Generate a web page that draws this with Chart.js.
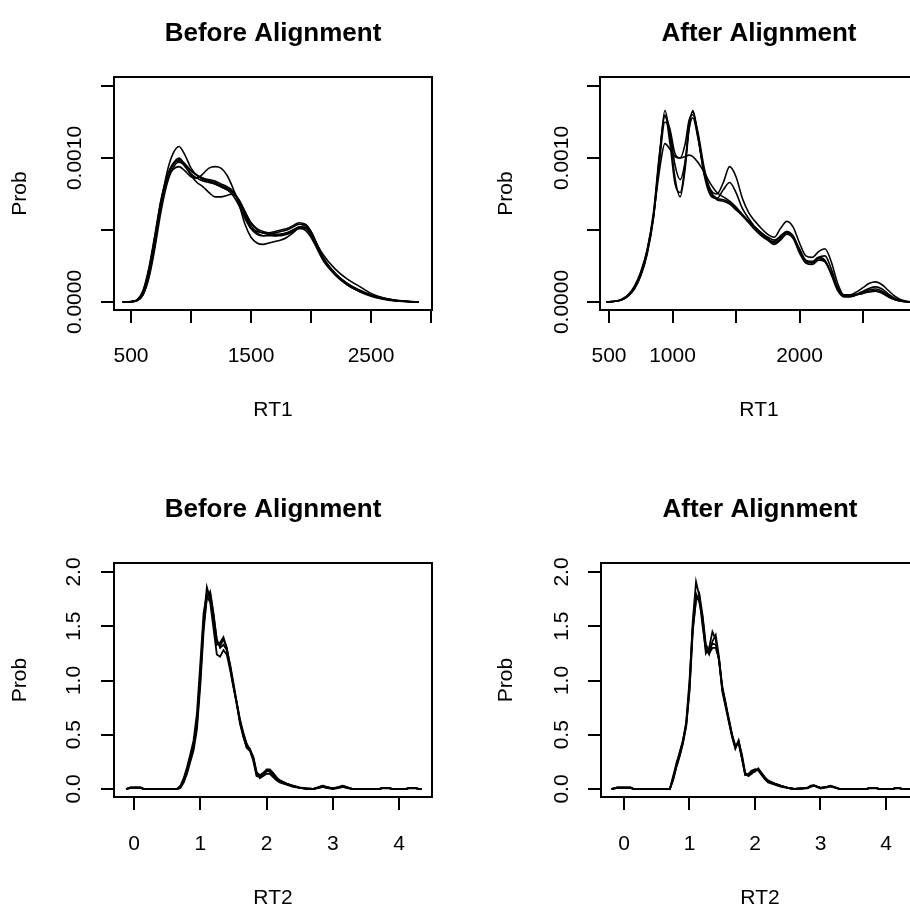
<!DOCTYPE html>
<html><head><meta charset="utf-8">
<script src="https://cdn.jsdelivr.net/npm/chart.js@4.4.1/dist/chart.umd.min.js"></script>
<style>
html,body{margin:0;padding:0;background:#fff;overflow:hidden;}
#wrap{position:relative;width:910px;height:912px;overflow:hidden;background:#fff;}
canvas{position:absolute;}
</style></head><body>
<div id="wrap">
<canvas id="c1" width="455" height="456" style="left:0px;top:0px"></canvas>
<canvas id="c2" width="480" height="456" style="left:455px;top:0px"></canvas>
<canvas id="c3" width="455" height="456" style="left:0px;top:456px"></canvas>
<canvas id="c4" width="480" height="456" style="left:455px;top:456px"></canvas>
</div>
<script>
// ---------- RT1, before alignment ----------
const RT1_BEFORE_X = [430, 500, 550, 600, 650, 700, 750, 800, 850, 900, 950, 1000, 1050, 1100, 1150, 1200, 1250, 1300, 1350, 1400, 1450, 1500, 1550, 1600, 1650, 1700, 1750, 1800, 1850, 1900, 1950, 2000, 2050, 2100, 2200, 2300, 2400, 2500, 2600, 2700, 2800, 2900];
const RT1_BEFORE_S1 = [0, 0.02e-4, 0.1e-4, 0.6e-4, 2.0e-4, 4.2e-4, 6.8e-4, 8.5e-4, 9.5e-4, 9.9e-4, 9.6e-4, 9.1e-4, 8.8e-4, 8.5e-4, 8.4e-4, 8.3e-4, 8.1e-4, 7.9e-4, 7.6e-4, 7.0e-4, 6.1e-4, 5.3e-4, 4.8e-4, 4.6e-4, 4.6e-4, 4.6e-4, 4.7e-4, 4.8e-4, 5.0e-4, 5.2e-4, 5.3e-4, 4.8e-4, 3.9e-4, 3.0e-4, 2.0e-4, 1.3e-4, 0.85e-4, 0.5e-4, 0.27e-4, 0.11e-4, 0.04e-4, 0];
const RT1_BEFORE_S2 = [0, 0.02e-4, 0.1e-4, 0.5e-4, 1.8e-4, 4.0e-4, 6.8e-4, 9.0e-4, 10.3e-4, 10.8e-4, 10.2e-4, 9.3e-4, 8.8e-4, 8.6e-4, 8.5e-4, 8.4e-4, 8.2e-4, 8.0e-4, 7.7e-4, 7.0e-4, 6.0e-4, 5.1e-4, 4.7e-4, 4.6e-4, 4.7e-4, 4.8e-4, 4.9e-4, 5.0e-4, 5.2e-4, 5.4e-4, 5.4e-4, 4.9e-4, 4.0e-4, 3.1e-4, 2.0e-4, 1.2e-4, 0.75e-4, 0.45e-4, 0.25e-4, 0.1e-4, 0.03e-4, 0];
const RT1_BEFORE_S3 = [0, 0.02e-4, 0.12e-4, 0.7e-4, 2.2e-4, 4.4e-4, 6.9e-4, 8.5e-4, 9.2e-4, 9.4e-4, 9.1e-4, 8.7e-4, 8.6e-4, 8.9e-4, 9.3e-4, 9.4e-4, 9.3e-4, 8.8e-4, 7.9e-4, 6.8e-4, 5.4e-4, 4.5e-4, 4.1e-4, 4.0e-4, 4.1e-4, 4.2e-4, 4.3e-4, 4.5e-4, 4.8e-4, 5.1e-4, 5.0e-4, 4.5e-4, 3.7e-4, 2.9e-4, 1.9e-4, 1.2e-4, 0.75e-4, 0.45e-4, 0.25e-4, 0.1e-4, 0.03e-4, 0];
const RT1_BEFORE_S4 = [0, 0.03e-4, 0.15e-4, 0.8e-4, 2.4e-4, 4.7e-4, 7.1e-4, 8.7e-4, 9.6e-4, 10.0e-4, 9.5e-4, 8.8e-4, 8.3e-4, 8.0e-4, 7.6e-4, 7.3e-4, 7.3e-4, 7.4e-4, 7.5e-4, 7.0e-4, 6.2e-4, 5.5e-4, 5.1e-4, 4.9e-4, 4.8e-4, 4.7e-4, 4.7e-4, 4.8e-4, 5.0e-4, 5.2e-4, 5.2e-4, 4.7e-4, 3.8e-4, 3.0e-4, 1.9e-4, 1.2e-4, 0.75e-4, 0.4e-4, 0.2e-4, 0.08e-4, 0.03e-4, 0];
const RT1_BEFORE_S5 = [0, 0.02e-4, 0.1e-4, 0.5e-4, 1.7e-4, 3.8e-4, 6.3e-4, 8.2e-4, 9.3e-4, 9.7e-4, 9.5e-4, 9.1e-4, 8.8e-4, 8.6e-4, 8.4e-4, 8.2e-4, 8.0e-4, 7.8e-4, 7.4e-4, 6.7e-4, 5.8e-4, 5.1e-4, 4.9e-4, 4.8e-4, 4.7e-4, 4.6e-4, 4.6e-4, 4.7e-4, 4.9e-4, 5.1e-4, 5.1e-4, 4.7e-4, 4.0e-4, 3.3e-4, 2.3e-4, 1.6e-4, 1.1e-4, 0.6e-4, 0.3e-4, 0.13e-4, 0.05e-4, 0];
const RT1_BEFORE_S6 = [0, 0.03e-4, 0.15e-4, 0.7e-4, 2.3e-4, 4.6e-4, 7.0e-4, 8.7e-4, 9.6e-4, 9.8e-4, 9.4e-4, 8.9e-4, 8.6e-4, 8.4e-4, 8.3e-4, 8.2e-4, 8.0e-4, 7.8e-4, 7.6e-4, 7.1e-4, 6.3e-4, 5.5e-4, 5.0e-4, 4.8e-4, 4.8e-4, 4.9e-4, 5.0e-4, 5.1e-4, 5.3e-4, 5.5e-4, 5.4e-4, 4.9e-4, 4.0e-4, 3.1e-4, 2.0e-4, 1.3e-4, 0.8e-4, 0.45e-4, 0.22e-4, 0.09e-4, 0.03e-4, 0];

// ---------- RT1, after alignment ----------
const RT1_AFTER_X = [480, 550, 600, 650, 700, 750, 800, 850, 900, 940, 980, 1020, 1060, 1100, 1130, 1160, 1200, 1250, 1300, 1350, 1400, 1450, 1500, 1550, 1600, 1650, 1700, 1750, 1800, 1850, 1900, 1950, 2000, 2050, 2100, 2150, 2200, 2250, 2300, 2350, 2400, 2450, 2500, 2550, 2600, 2650, 2700, 2750, 2800, 2870];
const RT1_AFTER_S1 = [0, 0.05e-4, 0.15e-4, 0.4e-4, 0.9e-4, 1.8e-4, 3.3e-4, 5.8e-4, 10.2e-4, 13.3e-4, 11.5e-4, 8.6e-4, 7.3e-4, 9.3e-4, 12.0e-4, 13.3e-4, 11.6e-4, 8.9e-4, 7.6e-4, 7.1e-4, 7.0e-4, 6.8e-4, 6.4e-4, 6.0e-4, 5.6e-4, 5.1e-4, 4.7e-4, 4.3e-4, 4.0e-4, 4.3e-4, 4.7e-4, 4.4e-4, 3.4e-4, 2.7e-4, 2.6e-4, 2.9e-4, 2.8e-4, 1.9e-4, 0.8e-4, 0.35e-4, 0.35e-4, 0.5e-4, 0.7e-4, 0.85e-4, 0.9e-4, 0.75e-4, 0.45e-4, 0.2e-4, 0.07e-4, 0];
const RT1_AFTER_S2 = [0, 0.05e-4, 0.15e-4, 0.45e-4, 1.0e-4, 2.0e-4, 3.6e-4, 6.2e-4, 10.5e-4, 12.9e-4, 12.0e-4, 10.3e-4, 10.0e-4, 11.0e-4, 12.6e-4, 13.0e-4, 11.8e-4, 9.3e-4, 7.7e-4, 7.2e-4, 7.1e-4, 6.9e-4, 6.5e-4, 6.0e-4, 5.5e-4, 5.0e-4, 4.6e-4, 4.3e-4, 4.2e-4, 4.6e-4, 4.9e-4, 4.5e-4, 3.5e-4, 2.8e-4, 2.8e-4, 3.1e-4, 2.9e-4, 2.0e-4, 0.9e-4, 0.4e-4, 0.4e-4, 0.5e-4, 0.6e-4, 0.75e-4, 0.8e-4, 0.65e-4, 0.4e-4, 0.18e-4, 0.06e-4, 0];
const RT1_AFTER_S3 = [0, 0.05e-4, 0.2e-4, 0.5e-4, 1.1e-4, 2.1e-4, 3.6e-4, 6.0e-4, 9.3e-4, 11.0e-4, 10.6e-4, 10.1e-4, 10.0e-4, 10.1e-4, 10.2e-4, 10.1e-4, 9.7e-4, 9.0e-4, 8.2e-4, 7.6e-4, 7.3e-4, 7.0e-4, 6.6e-4, 6.1e-4, 5.6e-4, 5.2e-4, 4.8e-4, 4.5e-4, 4.3e-4, 4.5e-4, 4.8e-4, 4.5e-4, 3.7e-4, 2.9e-4, 2.8e-4, 3.0e-4, 2.8e-4, 2.0e-4, 1.0e-4, 0.45e-4, 0.4e-4, 0.5e-4, 0.6e-4, 0.7e-4, 0.75e-4, 0.6e-4, 0.35e-4, 0.15e-4, 0.05e-4, 0];
const RT1_AFTER_S4 = [0, 0.05e-4, 0.15e-4, 0.4e-4, 0.95e-4, 1.9e-4, 3.4e-4, 5.9e-4, 10.0e-4, 12.5e-4, 11.8e-4, 9.5e-4, 8.5e-4, 9.8e-4, 12.0e-4, 12.8e-4, 11.4e-4, 9.0e-4, 7.8e-4, 7.5e-4, 8.3e-4, 9.4e-4, 8.7e-4, 7.2e-4, 6.2e-4, 5.6e-4, 5.1e-4, 4.7e-4, 4.5e-4, 5.1e-4, 5.6e-4, 5.2e-4, 4.1e-4, 3.2e-4, 3.1e-4, 3.5e-4, 3.7e-4, 2.8e-4, 1.3e-4, 0.5e-4, 0.5e-4, 0.7e-4, 1.0e-4, 1.3e-4, 1.4e-4, 1.2e-4, 0.8e-4, 0.4e-4, 0.15e-4, 0.02e-4];
const RT1_AFTER_S5 = [0, 0.05e-4, 0.15e-4, 0.45e-4, 1.0e-4, 1.9e-4, 3.5e-4, 6.0e-4, 10.3e-4, 13.0e-4, 11.0e-4, 8.2e-4, 7.6e-4, 9.6e-4, 12.3e-4, 13.2e-4, 11.5e-4, 8.8e-4, 7.4e-4, 7.2e-4, 7.8e-4, 8.3e-4, 7.6e-4, 6.5e-4, 5.8e-4, 5.2e-4, 4.8e-4, 4.4e-4, 4.1e-4, 4.4e-4, 4.9e-4, 4.6e-4, 3.6e-4, 2.8e-4, 2.7e-4, 3.1e-4, 3.2e-4, 2.3e-4, 1.0e-4, 0.4e-4, 0.4e-4, 0.55e-4, 0.75e-4, 0.95e-4, 1.05e-4, 0.9e-4, 0.55e-4, 0.25e-4, 0.08e-4, 0];

// ---------- RT2, before alignment ----------
const RT2_BEFORE_X = [-0.12, -0.05, 0.05, 0.1, 0.15, 0.65, 0.7, 0.75, 0.8, 0.85, 0.9, 0.95, 1.0, 1.05, 1.1, 1.15, 1.2, 1.25, 1.3, 1.35, 1.4, 1.45, 1.5, 1.55, 1.6, 1.65, 1.7, 1.75, 1.8, 1.85, 1.9, 1.95, 2.0, 2.05, 2.1, 2.15, 2.2, 2.3, 2.4, 2.5, 2.6, 2.7, 2.8, 2.85, 2.9, 3.0, 3.1, 3.15, 3.2, 3.3, 3.7, 3.75, 3.85, 3.9, 4.1, 4.15, 4.25, 4.3, 4.34];
const RT2_BEFORE_S1 = [0, 0.015, 0.015, 0.015, 0, 0, 0.02, 0.09, 0.18, 0.3, 0.42, 0.62, 1.05, 1.55, 1.86, 1.75, 1.55, 1.33, 1.35, 1.4, 1.3, 1.12, 0.95, 0.78, 0.62, 0.5, 0.4, 0.37, 0.28, 0.13, 0.12, 0.15, 0.17, 0.16, 0.12, 0.09, 0.07, 0.05, 0.03, 0.01, 0.005, 0, 0.02, 0.03, 0.02, 0.005, 0.02, 0.03, 0.02, 0, 0, 0.01, 0.01, 0, 0, 0.01, 0.01, 0, 0];
const RT2_BEFORE_S2 = [0, 0.01, 0.01, 0.01, 0, 0, 0.01, 0.06, 0.14, 0.25, 0.36, 0.55, 0.95, 1.45, 1.78, 1.72, 1.48, 1.24, 1.22, 1.28, 1.24, 1.1, 0.94, 0.8, 0.64, 0.52, 0.42, 0.36, 0.3, 0.16, 0.1, 0.12, 0.14, 0.14, 0.11, 0.08, 0.06, 0.04, 0.02, 0.01, 0, 0, 0.01, 0.02, 0.01, 0, 0.01, 0.02, 0.01, 0, 0, 0.005, 0.005, 0, 0, 0.005, 0.005, 0, 0];
const RT2_BEFORE_S3 = [0, 0.015, 0.015, 0.015, 0, 0, 0.03, 0.1, 0.2, 0.32, 0.45, 0.7, 1.15, 1.62, 1.8, 1.8, 1.6, 1.38, 1.3, 1.33, 1.28, 1.15, 0.98, 0.8, 0.63, 0.49, 0.38, 0.35, 0.26, 0.12, 0.11, 0.13, 0.16, 0.17, 0.14, 0.1, 0.08, 0.05, 0.03, 0.015, 0.005, 0, 0.015, 0.025, 0.015, 0.005, 0.015, 0.025, 0.015, 0, 0, 0.01, 0.01, 0, 0, 0.01, 0.01, 0, 0];
const RT2_BEFORE_S4 = [0, 0.01, 0.01, 0.01, 0, 0, 0.02, 0.08, 0.16, 0.28, 0.4, 0.6, 1.0, 1.5, 1.76, 1.82, 1.62, 1.36, 1.32, 1.38, 1.3, 1.14, 0.96, 0.79, 0.6, 0.48, 0.39, 0.36, 0.29, 0.15, 0.13, 0.14, 0.18, 0.18, 0.15, 0.11, 0.08, 0.05, 0.03, 0.01, 0.005, 0, 0.02, 0.03, 0.02, 0.005, 0.02, 0.03, 0.02, 0, 0, 0.01, 0.01, 0, 0, 0.01, 0.01, 0, 0];

// ---------- RT2, after alignment ----------
const RT2_AFTER_X = [-0.19, -0.1, 0.0, 0.1, 0.15, 0.7, 0.75, 0.8, 0.85, 0.9, 0.95, 1.0, 1.05, 1.1, 1.15, 1.2, 1.25, 1.3, 1.35, 1.4, 1.45, 1.5, 1.55, 1.6, 1.65, 1.7, 1.75, 1.8, 1.85, 1.9, 1.95, 2.0, 2.05, 2.1, 2.15, 2.2, 2.3, 2.4, 2.5, 2.6, 2.8, 2.85, 2.9, 3.0, 3.1, 3.15, 3.2, 3.3, 3.7, 3.75, 3.85, 3.9, 4.1, 4.15, 4.2, 4.25, 4.37];
const RT2_AFTER_S1 = [0, 0.015, 0.015, 0.015, 0, 0, 0.1, 0.24, 0.33, 0.45, 0.6, 0.95, 1.55, 1.91, 1.78, 1.55, 1.25, 1.3, 1.45, 1.38, 1.18, 0.92, 0.78, 0.65, 0.5, 0.38, 0.45, 0.3, 0.14, 0.12, 0.14, 0.17, 0.18, 0.14, 0.1, 0.07, 0.05, 0.03, 0.01, 0, 0.01, 0.03, 0.035, 0.01, 0.02, 0.03, 0.02, 0, 0, 0.01, 0.01, 0, 0, 0.01, 0.01, 0, 0];
const RT2_AFTER_S2 = [0, 0.01, 0.01, 0.01, 0, 0, 0.08, 0.2, 0.3, 0.42, 0.58, 0.9, 1.45, 1.75, 1.76, 1.5, 1.28, 1.25, 1.3, 1.3, 1.2, 0.95, 0.8, 0.64, 0.5, 0.4, 0.42, 0.28, 0.13, 0.14, 0.17, 0.18, 0.17, 0.13, 0.09, 0.06, 0.04, 0.02, 0.01, 0, 0.005, 0.02, 0.03, 0.005, 0.015, 0.025, 0.015, 0, 0, 0.005, 0.005, 0, 0, 0.005, 0.005, 0, 0];
const RT2_AFTER_S3 = [0, 0.015, 0.015, 0.015, 0, 0, 0.12, 0.22, 0.34, 0.44, 0.62, 1.0, 1.5, 1.8, 1.72, 1.58, 1.3, 1.24, 1.36, 1.42, 1.22, 0.9, 0.76, 0.62, 0.48, 0.37, 0.44, 0.32, 0.15, 0.12, 0.15, 0.16, 0.19, 0.15, 0.11, 0.08, 0.05, 0.03, 0.01, 0, 0.01, 0.03, 0.03, 0.01, 0.02, 0.03, 0.02, 0, 0, 0.01, 0.01, 0, 0, 0.01, 0.01, 0, 0];
const RT2_AFTER_S4 = [0, 0.01, 0.01, 0.01, 0, 0, 0.09, 0.21, 0.31, 0.43, 0.59, 0.92, 1.48, 1.74, 1.8, 1.6, 1.33, 1.28, 1.34, 1.33, 1.2, 0.93, 0.79, 0.63, 0.49, 0.39, 0.43, 0.29, 0.13, 0.13, 0.16, 0.18, 0.18, 0.14, 0.1, 0.07, 0.05, 0.03, 0.01, 0, 0.01, 0.025, 0.03, 0.01, 0.02, 0.025, 0.02, 0, 0, 0.01, 0.01, 0, 0, 0.01, 0.01, 0, 0];

// ---------- ticks and labels ----------
const RT1_BEFORE_TICKS = [500, 1000, 1500, 2000, 2500, 3000];
const RT1_AFTER_TICKS = [500, 1000, 1500, 2000, 2500];
const RT1_BEFORE_TICK_LABELS = [500, 1500, 2500];
const RT1_AFTER_TICK_LABELS = [500, 1000, 2000];
const RT2_TICKS = [0, 1, 2, 3, 4];
const RT2_TICK_LABELS = [0, 1, 2, 3, 4];
const PROB1_TICKS = [0, 0.0005, 0.0010, 0.0015];
const PROB1_LABEL_VALUES = [0, 0.0010];
const PROB1_LABEL_TEXT = ['0.0000', '0.0010'];
const PROB2_TICKS = [0, 0.5, 1.0, 1.5, 2.0];
const PROB2_LABEL_VALUES = [0, 0.5, 1.0, 1.5, 2.0];
const PROB2_LABEL_TEXT = ['0.0', '0.5', '1.0', '1.5', '2.0'];

const TITLE_BEFORE = 'Before Alignment';
const TITLE_AFTER = 'After Alignment';

// ---------- drawing ----------
const FONT = "'Liberation Sans', Arial, Helvetica, sans-serif";
Chart.defaults.font.family = FONT;
Chart.defaults.color = '#000';

function framePlugin(p) {
  return {
    id: 'frame_' + p.id,
    afterDraw(chart) {
      const ctx = chart.ctx, a = chart.chartArea, ys = chart.scales.y;
      ctx.save();
      ctx.strokeStyle = '#000';
      ctx.lineWidth = 2;
      ctx.strokeRect(a.left, a.top, a.right - a.left, a.bottom - a.top);
      ctx.fillStyle = '#000';
      ctx.font = p.fs + 'px ' + FONT;
      ctx.textAlign = 'center';
      ctx.textBaseline = 'middle';
      p.ylabelValues.forEach((v, i) => {
        const py = ys.getPixelForValue(v);
        ctx.save();
        ctx.translate(p.yLabelX, py);
        ctx.rotate(-Math.PI / 2);
        ctx.fillText(p.ylabelText[i], 0, 0);
        ctx.restore();
      });
      ctx.restore();
    }
  };
}

function makePanel(p) {
  const canvas = document.getElementById(p.id);
  const W = canvas.width, H = canvas.height;
  const lh = p.fs * 1.2, tlh = p.tfs * 1.2;
  const axisGrid = {display: true, drawOnChartArea: false, drawTicks: true, tickLength: p.tl, color: '#000', lineWidth: 2};
  new Chart(canvas, {
    type: 'line',
    data: {
      datasets: p.series.map(ys => ({
        data: p.xs.map((x, i) => ({x: x, y: ys[i]})),
        borderColor: '#000',
        borderWidth: p.lw,
        pointRadius: 0,
        fill: false,
        tension: p.smooth ? 0.4 : 0,
        cubicInterpolationMode: p.smooth ? 'monotone' : 'default'
      }))
    },
    options: {
      responsive: false, animation: false, devicePixelRatio: 1, events: [],
      layout: {padding: {left: 0, top: 0, right: W - p.box.r, bottom: 0}},
      plugins: {
        legend: {display: false},
        tooltip: {enabled: false},
        title: {display: true, text: p.title, fullSize: false, color: '#000',
          font: {size: p.tfs, weight: 'bold', lineHeight: 1.2},
          padding: {top: p.titleY - tlh / 2, bottom: p.box.t - p.titleY - tlh / 2}}
      },
      scales: {
        x: {
          type: 'linear', position: 'bottom', bounds: 'data', min: p.xmin, max: p.xmax,
          afterBuildTicks: s => { s.ticks = p.xticks.map(v => ({value: v})); },
          afterFit: s => { s.height = H - p.box.b; },
          grid: axisGrid,
          border: {display: true, color: '#000', width: 2},
          ticks: {autoSkip: false, maxRotation: 0, minRotation: 0, color: '#000',
            font: {size: p.fs, lineHeight: 1.2},
            padding: p.xLabelY - p.box.b - p.tl - lh / 2,
            callback: v => p.xlabels.includes(v) ? String(v) : ''},
          title: {display: true, text: p.xtitle, color: '#000', font: {size: p.fs, lineHeight: 1.2},
            padding: {top: 0, bottom: H - p.xTitleY - lh / 2}}
        },
        y: {
          type: 'linear', position: 'left', bounds: 'data', min: p.ymin, max: p.ymax,
          afterBuildTicks: s => { s.ticks = p.yticks.map(v => ({value: v})); },
          afterFit: s => { s.width = p.box.l; },
          grid: axisGrid,
          border: {display: true, color: '#000', width: 2},
          ticks: {display: false},
          title: {display: true, text: 'Prob', color: '#000', font: {size: p.fs, lineHeight: 1.2},
            padding: {top: p.yTitleX - lh / 2, bottom: 0}}
        }
      }
    },
    plugins: [framePlugin(p)]
  });
}

const common = {fs: 21, tfs: 26, tl: 13};

makePanel(Object.assign({}, common, {
  id: 'c1', title: TITLE_BEFORE, xtitle: 'RT1', smooth: true, lw: 1.6,
  xs: RT1_BEFORE_X, series: [RT1_BEFORE_S1, RT1_BEFORE_S2, RT1_BEFORE_S3, RT1_BEFORE_S4, RT1_BEFORE_S5, RT1_BEFORE_S6],
  box: {l: 114, r: 432, t: 77, b: 310},
  xmin: 358.3, xmax: 3008.3, ymin: -0.0000556, ymax: 0.0015625,
  xticks: RT1_BEFORE_TICKS, xlabels: RT1_BEFORE_TICK_LABELS,
  yticks: PROB1_TICKS, ylabelValues: PROB1_LABEL_VALUES, ylabelText: PROB1_LABEL_TEXT,
  titleY: 34, xLabelY: 356.5, xTitleY: 410, yTitleX: 20.5, yLabelX: 75
}));

makePanel(Object.assign({}, common, {
  id: 'c2', title: TITLE_AFTER, xtitle: 'RT1', smooth: true, lw: 1.6,
  xs: RT1_AFTER_X, series: [RT1_AFTER_S1, RT1_AFTER_S2, RT1_AFTER_S3, RT1_AFTER_S4, RT1_AFTER_S5],
  box: {l: 145, r: 463, t: 77, b: 310},
  xmin: 429.1, xmax: 2933, ymin: -0.0000556, ymax: 0.0015625,
  xticks: RT1_AFTER_TICKS, xlabels: RT1_AFTER_TICK_LABELS,
  yticks: PROB1_TICKS, ylabelValues: PROB1_LABEL_VALUES, ylabelText: PROB1_LABEL_TEXT,
  titleY: 34, xLabelY: 356.5, xTitleY: 410, yTitleX: 51, yLabelX: 107
}));

makePanel(Object.assign({}, common, {
  id: 'c3', title: TITLE_BEFORE, xtitle: 'RT2', smooth: false, lw: 1.8,
  xs: RT2_BEFORE_X, series: [RT2_BEFORE_S1, RT2_BEFORE_S2, RT2_BEFORE_S3, RT2_BEFORE_S4],
  box: {l: 114, r: 432, t: 107, b: 341},
  xmin: -0.302, xmax: 4.498, ymin: -0.0737, ymax: 2.083,
  xticks: RT2_TICKS, xlabels: RT2_TICK_LABELS,
  yticks: PROB2_TICKS, ylabelValues: PROB2_LABEL_VALUES, ylabelText: PROB2_LABEL_TEXT,
  titleY: 54, xLabelY: 388.5, xTitleY: 442, yTitleX: 20.5, yLabelX: 74
}));

makePanel(Object.assign({}, common, {
  id: 'c4', title: TITLE_AFTER, xtitle: 'RT2', smooth: false, lw: 1.8,
  xs: RT2_AFTER_X, series: [RT2_AFTER_S1, RT2_AFTER_S2, RT2_AFTER_S3, RT2_AFTER_S4],
  box: {l: 146, r: 464, t: 107, b: 341},
  xmin: -0.351, xmax: 4.504, ymin: -0.0737, ymax: 2.083,
  xticks: RT2_TICKS, xlabels: RT2_TICK_LABELS,
  yticks: PROB2_TICKS, ylabelValues: PROB2_LABEL_VALUES, ylabelText: PROB2_LABEL_TEXT,
  titleY: 54, xLabelY: 388.5, xTitleY: 442, yTitleX: 51, yLabelX: 107
}));
</script>
</body></html>
